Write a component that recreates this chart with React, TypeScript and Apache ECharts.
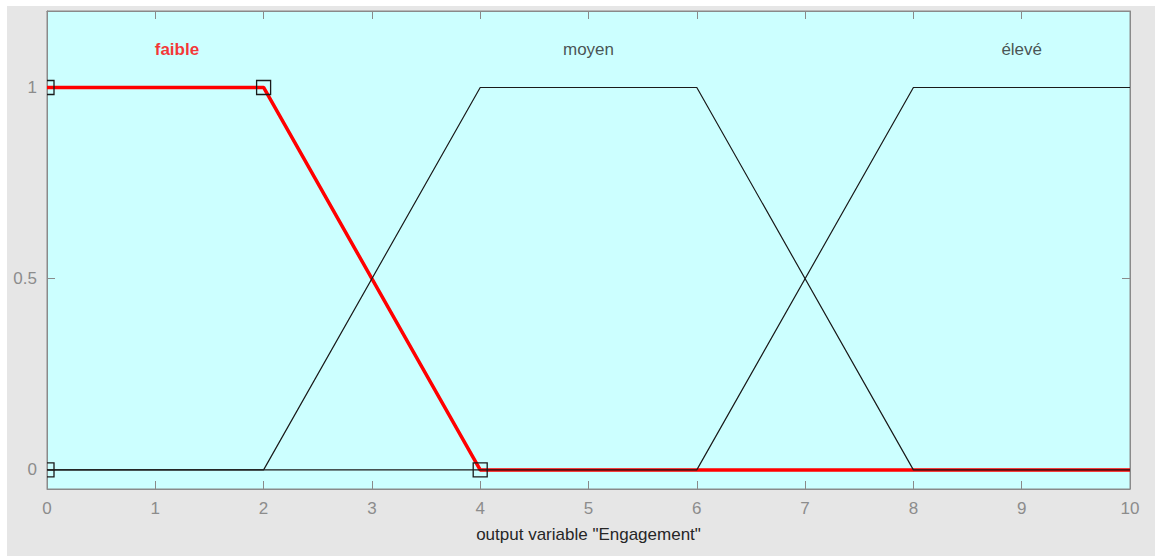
import React, { useEffect, useRef } from "react";
import * as echarts from "echarts";

const xTicks = [0, 1, 2, 3, 4, 5, 6, 7, 8, 9, 10];
const yTicks = [0, 0.5, 1];
const faibleX = [0, 2, 4, 10];
const faibleY = [1, 1, 0, 0];
const moyenX = [0, 2, 4, 6, 8, 10];
const moyenY = [0, 0, 1, 1, 0, 0];
const eleveX = [0, 6, 8, 10];
const eleveY = [0, 0, 1, 1];
const markerX = [0, 0, 2, 4];
const markerY = [0, 1, 1, 0];
const mfNames = ["faible", "moyen", "élevé"];
const mfLabelX = [1.2, 5, 9];
const mfLabelY = [1.1, 1.1, 1.1];
const axisTitle = 'output variable "Engagement"';

const zip = (xs: number[], ys: number[]) => xs.map((x, i) => [x, ys[i]]);

export default function App() {
  const ref = useRef<HTMLDivElement>(null);
  useEffect(() => {
    if (!ref.current) return;
    const chart = echarts.init(ref.current, null, { renderer: "svg" });
    const font = "'Liberation Sans', Arial, sans-serif";
    const axisGray = "#8a8a8a";
    const tick = { show: true, inside: true, length: 8, lineStyle: { color: axisGray, width: 1 } };
    const line = { show: true, onZero: false, lineStyle: { color: axisGray } };
    chart.setOption({
      animation: false,
      backgroundColor: "#e6e6e6",
      textStyle: { fontFamily: font },
      grid: {
        left: 40,
        top: 5,
        right: 25,
        bottom: 67,
        show: true,
        backgroundColor: "#ccffff",
        borderColor: axisGray,
        borderWidth: 1,
      },
      xAxis: [
        {
          type: "value",
          min: 0,
          max: 10,
          interval: 1,
          position: "bottom",
          axisLine: line,
          axisTick: tick,
          splitLine: { show: false },
          axisLabel: { color: "#8c8c8c", fontSize: 17, margin: 11, fontFamily: font, customValues: xTicks },
          name: axisTitle,
          nameLocation: "middle",
          nameGap: 37,
          nameTextStyle: { color: "#262626", fontSize: 17, fontFamily: font },
        },
        {
          type: "value",
          min: 0,
          max: 10,
          interval: 1,
          position: "top",
          axisLine: line,
          axisTick: tick,
          splitLine: { show: false },
          axisLabel: { show: false },
        },
      ],
      yAxis: [
        {
          type: "value",
          min: -0.05,
          max: 1.2,
          position: "left",
          axisLine: line,
          axisTick: { ...tick, customValues: yTicks },
          splitLine: { show: false },
          axisLabel: { color: "#8c8c8c", fontSize: 17, margin: 10, fontFamily: font, customValues: yTicks },
        },
        {
          type: "value",
          min: -0.05,
          max: 1.2,
          position: "right",
          axisLine: line,
          axisTick: { ...tick, customValues: yTicks },
          splitLine: { show: false },
          axisLabel: { show: false },
        },
      ],
      series: [
        {
          name: "faible",
          type: "line",
          data: zip(faibleX, faibleY),
          symbol: "none",
          lineStyle: { color: "#ff0000", width: 3.5 },
          z: 2,
        },
        {
          name: "moyen",
          type: "line",
          data: zip(moyenX, moyenY),
          symbol: "none",
          lineStyle: { color: "#1a1a1a", width: 1.2 },
          z: 3,
        },
        {
          name: "élevé",
          type: "line",
          data: zip(eleveX, eleveY),
          symbol: "none",
          lineStyle: { color: "#1a1a1a", width: 1.2 },
          z: 3,
        },
        {
          name: "markers",
          type: "custom",
          clip: true,
          z: 4,
          data: zip(markerX, markerY),
          renderItem: (params: any, api: any) => {
            const p = api.coord([api.value(0), api.value(1)]);
            const s = 14;
            return {
              type: "rect",
              shape: { x: p[0] - s / 2, y: p[1] - s / 2, width: s, height: s },
              style: { fill: "none", stroke: "#1a1a1a", lineWidth: 1.3 },
            };
          },
        },
        {
          name: "labels",
          type: "scatter",
          symbolSize: 0,
          z: 5,
          data: mfNames.map((n, i) => ({
            name: n,
            value: [mfLabelX[i], mfLabelY[i]],
            label: {
              show: true,
              position: "inside",
              formatter: "{b}",
              fontSize: 17,
              fontFamily: font,
              color: i === 0 ? "#ff0000" : "#262626",
              fontWeight: i === 0 ? "bold" : "normal",
            },
          })),
        },
      ],
    });
    return () => chart.dispose();
  }, []);
  return (
    <div style={{ position: "absolute", left: 0, top: 0, width: 1155, height: 556, background: "#ffffff" }}>
      <div ref={ref} style={{ position: "absolute", left: 7, top: 6, width: 1148, height: 550 }} />
    </div>
  );
}
